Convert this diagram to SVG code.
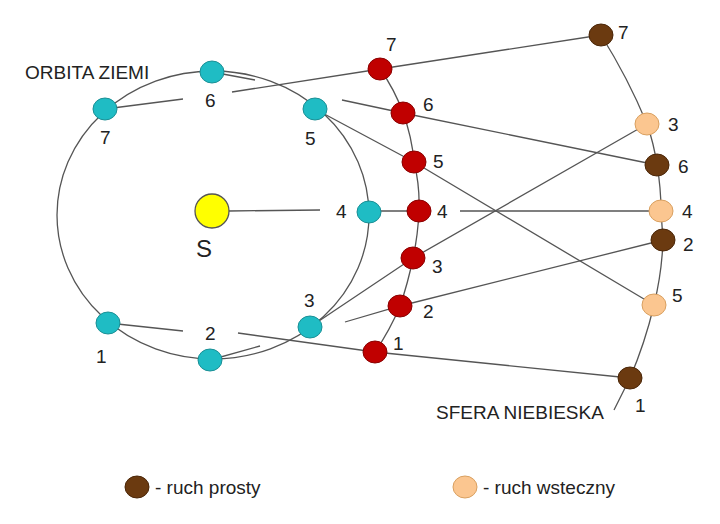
<svg xmlns="http://www.w3.org/2000/svg" width="720" height="524" viewBox="0 0 720 524">
<style>
.l{stroke:#555;stroke-width:1.3;fill:none}
.e{fill:#1fbcc4;stroke:#1a8f95;stroke-width:1}
.m{fill:#c00000;stroke:#8a0000;stroke-width:1}
.p{fill:#6b3a10;stroke:#4a2608;stroke-width:1}
.w{fill:#fbc690;stroke:#d9a060;stroke-width:1}
text{font-family:"Liberation Sans",Arial,sans-serif;font-size:19px;fill:#222}
</style>
<rect width="720" height="524" fill="#fff"/>
<g id="connectors">
<ellipse class="l" cx="213" cy="215" rx="156" ry="144"/>
<path class="l" d="M212 72 L255 80 M210 360 L260 346"/>
<path class="l" d="M380 69 Q395 90 403 113 Q412 137 414 162 Q420 186 419 211 Q418 235 413 258 Q408 283 400 306 Q390 330 375 352"/>
<path class="l" d="M601 35 Q628 78 647 124 Q654 144 657 165 Q661 188 661 211 L663 240 Q662 272 654 305 Q645 343 630 378 L614 410"/>
<path class="l" d="M105 109 L183 99 M232 92 L380 69 L601 35"/>
<path class="l" d="M342 100 L403 113 L657 165"/>
<path class="l" d="M315 109 L414 162 L654 305"/>
<path class="l" d="M229 211 L320 210 M380 211 L407 211 M460 211 L650 211"/>
<path class="l" d="M310 327 L413 258 L647 124"/>
<path class="l" d="M345 322 L400 306 L663 240"/>
<path class="l" d="M108 323 L183 331 M238 333 L375 352 L630 378"/>
</g>
<g id="sun"><circle cx="212" cy="211" r="17" fill="#ffff00" stroke="#555" stroke-width="1.3"/><text x="196" y="257" style="font-size:24px">S</text></g>
<g id="earth">
<ellipse class="e" cx="105" cy="109" rx="12" ry="11"/><ellipse class="e" cx="212" cy="72" rx="12" ry="11"/>
<ellipse class="e" cx="315" cy="109" rx="12" ry="11"/><ellipse class="e" cx="369" cy="212" rx="12" ry="11"/>
<ellipse class="e" cx="310" cy="327" rx="12" ry="11"/><ellipse class="e" cx="210" cy="360" rx="12" ry="11"/>
<ellipse class="e" cx="108" cy="323" rx="12" ry="11"/>
<text x="100" y="144">7</text><text x="205" y="107">6</text><text x="305" y="145">5</text><text x="336" y="218">4</text>
<text x="304" y="307">3</text><text x="205" y="340">2</text><text x="96" y="363">1</text>
<text x="25" y="79">ORBITA ZIEMI</text>
</g>
<g id="mars">
<ellipse class="m" cx="380" cy="69" rx="12" ry="11"/><ellipse class="m" cx="403" cy="113" rx="12" ry="11"/>
<ellipse class="m" cx="414" cy="162" rx="12" ry="11"/><ellipse class="m" cx="419" cy="211" rx="12" ry="11"/>
<ellipse class="m" cx="413" cy="258" rx="12" ry="11"/><ellipse class="m" cx="400" cy="306" rx="12" ry="11"/>
<ellipse class="m" cx="375" cy="352" rx="12" ry="11"/>
<text x="386" y="51">7</text><text x="423" y="111">6</text><text x="433" y="168">5</text><text x="437" y="218">4</text>
<text x="432" y="273">3</text><text x="423" y="318">2</text><text x="393" y="350">1</text>
</g>
<g id="sphere">
<ellipse class="p" cx="601" cy="35" rx="12" ry="11"/><ellipse class="w" cx="647" cy="124" rx="12" ry="11"/>
<ellipse class="p" cx="657" cy="165" rx="12" ry="11"/><ellipse class="w" cx="661" cy="211" rx="12" ry="11"/>
<ellipse class="p" cx="663" cy="240" rx="12" ry="11"/><ellipse class="w" cx="654" cy="305" rx="12" ry="11"/>
<ellipse class="p" cx="630" cy="378" rx="12" ry="11"/>
<text x="618" y="39">7</text><text x="668" y="131">3</text><text x="678" y="173">6</text><text x="682" y="218">4</text>
<text x="683" y="251">2</text><text x="672" y="302">5</text><text x="635" y="412">1</text>
<text x="436" y="419">SFERA NIEBIESKA</text>
</g>
<g id="legend">
<ellipse class="p" cx="137" cy="487" rx="12" ry="11"/><text x="155" y="494">- ruch prosty</text>
<ellipse class="w" cx="465" cy="487" rx="12" ry="11"/><text x="483" y="494">- ruch wsteczny</text>
</g>
</svg>
